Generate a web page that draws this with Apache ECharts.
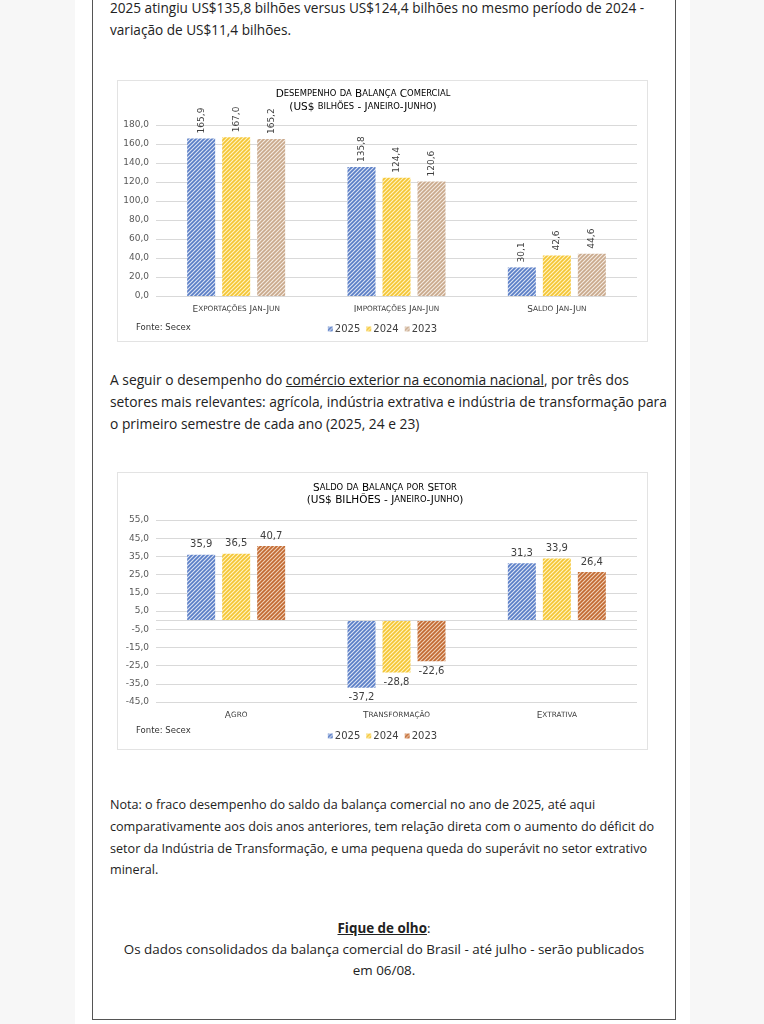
<!DOCTYPE html>
<html>
<head>
<meta charset="utf-8">
<script src="https://cdn.jsdelivr.net/npm/echarts@6/dist/echarts.min.js"></script>
<style>
  html, body { margin:0; padding:0; width:764px; height:1024px; overflow:hidden; background:#f7f7f7; }
  #page { position:absolute; left:75px; top:0; width:615px; height:1024px; background:#fff; }
  #box { position:absolute; left:92px; top:-10px; width:584px; height:1030px; border:1.5px solid #555; box-sizing:border-box; }
  .t { position:absolute; font-family:"Open Sans", sans-serif; font-size:13.6px; color:#222; white-space:nowrap; line-height:22px; }
  .p2 { font-size:13.8px; }
  .nota { font-size:12.6px; }
  .c { text-align:center; font-size:13.4px; }
  .u { text-decoration:underline; }
  .chart { position:absolute; left:117px; width:531px; border:1px solid #e3e3e3; box-sizing:border-box; background:#fff; }
</style>
</head>
<body>
<div id="page"></div>
<div id="box"></div>

<div class="t" style="left:110px; top:-3px;">2025 atingiu US$135,8 bilhões versus US$124,4 bilhões no mesmo período de 2024 -</div>
<div class="t" style="left:110px; top:19px;">variação de US$11,4 bilhões.</div>

<div id="c1" class="chart" style="top:80px; height:262px;"></div>

<div class="t p2" style="left:110px; top:369px;">A seguir o desempenho do <span class="u">comércio exterior na economia nacional</span>, por três dos</div>
<div class="t p2" style="left:110px; top:391px;">setores mais relevantes: agrícola, indústria extrativa e indústria de transformação para</div>
<div class="t p2" style="left:110px; top:413px;">o primeiro semestre de cada ano (2025, 24 e 23)</div>

<div id="c2" class="chart" style="top:472px; height:278px;"></div>

<div class="t nota" style="left:110px; top:794px;">Nota: o fraco desempenho do saldo da balança comercial no ano de 2025, até aqui</div>
<div class="t nota" style="left:110px; top:816px;">comparativamente aos dois anos anteriores, tem relação direta com o aumento do déficit do</div>
<div class="t nota" style="left:110px; top:838px;">setor da Indústria de Transformação, e uma pequena queda do superávit no setor extrativo</div>
<div class="t nota" style="left:110px; top:859px;">mineral.</div>

<div class="t c" style="left:92px; width:584px; top:917px;"><b class="u">Fique de olho</b>:</div>
<div class="t c" style="left:92px; width:584px; top:938px;">Os dados consolidados da balança comercial do Brasil - até julho - serão publicados</div>
<div class="t c" style="left:92px; width:584px; top:959px;">em 06/08.</div>

<script>
// ---------- data ----------
const years = ['2025', '2024', '2023'];

const c1Categories = ['Exportações Jan-Jun', 'Importações Jan-Jun', 'Saldo Jan-Jun'];
const c1Values2025 = [165.9, 135.8, 30.1];
const c1Values2024 = [167.0, 124.4, 42.6];
const c1Values2023 = [165.2, 120.6, 44.6];
const c1Ticks = { min: 0, max: 180, interval: 20 };

const c2Categories = ['Agro', 'Transformação', 'Extrativa'];
const c2Values2025 = [35.9, -37.2, 31.3];
const c2Values2024 = [36.5, -28.8, 33.9];
const c2Values2023 = [40.7, -22.6, 26.4];
const c2Ticks = { min: -45, max: 55, interval: 10 };

// ---------- helpers ----------
function hatch(line, bg) {
  const s = 4;
  const cv = document.createElement('canvas');
  cv.width = s; cv.height = s;
  const ctx = cv.getContext('2d');
  ctx.fillStyle = bg; ctx.fillRect(0, 0, s, s);
  ctx.strokeStyle = line; ctx.lineWidth = 1.7;
  ctx.beginPath();
  ctx.moveTo(-1, 1); ctx.lineTo(1, -1);
  ctx.moveTo(0, s); ctx.lineTo(s, 0);
  ctx.moveTo(s - 1, s + 1); ctx.lineTo(s + 1, s - 1);
  ctx.stroke();
  return { image: cv, repeat: 'repeat' };
}
function sc(str) {
  let out = '', cur = null, buf = '';
  for (const ch of str) {
    const low = ch !== ch.toUpperCase();
    const k = low ? 's' : 'b';
    if (k !== cur) { if (buf) out += '{' + cur + '|' + buf + '}'; buf = ''; cur = k; }
    buf += low ? ch.toUpperCase() : ch;
  }
  if (buf) out += '{' + cur + '|' + buf + '}';
  return out;
}
const fmt = v => v.toFixed(1).replace('.', ',');
const FONT = '"DejaVu Sans", Verdana, sans-serif';

function scRich(big, small, color) {
  return {
    b: { fontSize: big, fontFamily: FONT, color: color },
    s: { fontSize: small, fontFamily: FONT, color: color }
  };
}

const blue = hatch('#5a7ec6', '#dbe3f4');
const yellow = hatch('#f4c535', '#fff3c4');
const tan = hatch('#c9a98c', '#f4ebe2');
const brown = hatch('#c26a32', '#f0d0b8');

function baseOption(cats, ticks, top, bottom) {
  return {
    animation: false,
    grid: { left: 38, right: 10, top: top, bottom: bottom },
    xAxis: {
      type: 'category', data: cats,
      axisLine: { show: false, onZero: false }, axisTick: { show: false },
      axisLabel: { interval: 0, margin: 9, formatter: v => sc(v), rich: scRich(9, 7.3, '#404040') }
    },
    yAxis: {
      type: 'value', min: ticks.min, max: ticks.max, interval: ticks.interval,
      axisLine: { show: false }, axisTick: { show: false },
      axisLabel: { formatter: fmt, fontSize: 9, fontFamily: FONT, color: '#595959', margin: 7 },
      splitLine: { lineStyle: { color: '#d9d9d9', width: 1 } }
    },
    legend: {
      left: 'center', itemWidth: 5, itemHeight: 5, itemGap: 6,
      textStyle: { fontSize: 10, fontFamily: FONT, color: '#404040', padding: [0, 0, 0, -3] },
      icon: 'rect'
    }
  };
}

const titleRich = scRich(10.5, 8.4, '#262626');

// ---------- chart 1 ----------
const ch1 = echarts.init(document.getElementById('c1'));
const o1 = baseOption(c1Categories, c1Ticks, 44, 45);
o1.legend.top = 238;
o1.legend.data = years;
o1.graphic = [
  { type: 'text', x: 245, y: 13, style: { text: sc('Desempenho da Balança Comercial'), align: 'center', verticalAlign: 'middle', rich: titleRich } },
  { type: 'text', x: 245, y: 26, style: { text: sc('(US$ bilhões - Janeiro-Junho)'), align: 'center', verticalAlign: 'middle', rich: titleRich } },
  { type: 'text', x: 18, y: 247, style: { text: 'Fonte: Secex', fontSize: 8.5, fontFamily: FONT, fill: '#333', verticalAlign: 'middle' } }
];
const lab1 = { show: true, position: 'top', rotate: 90, align: 'left', verticalAlign: 'middle', distance: 5, formatter: p => fmt(p.value), fontSize: 9, fontFamily: FONT, color: '#404040' };
o1.series = [
  { name: '2025', type: 'bar', data: c1Values2025, barWidth: 28, barGap: '25%', itemStyle: { color: blue }, label: lab1 },
  { name: '2024', type: 'bar', data: c1Values2024, barWidth: 28, barGap: '25%', itemStyle: { color: yellow }, label: lab1 },
  { name: '2023', type: 'bar', data: c1Values2023, barWidth: 28, barGap: '25%', itemStyle: { color: tan }, label: lab1 }
];
ch1.setOption(o1);

// ---------- chart 2 ----------
const ch2 = echarts.init(document.getElementById('c2'));
const o2 = baseOption(c2Categories, c2Ticks, 47, 47);
o2.legend.top = 253;
o2.legend.data = years;
o2.graphic = [
  { type: 'text', x: 267, y: 15, style: { text: sc('Saldo da Balança por Setor'), align: 'center', verticalAlign: 'middle', rich: titleRich } },
  { type: 'text', x: 267, y: 27, style: { text: sc('(US$ BILHÕES - Janeiro-Junho)'), align: 'center', verticalAlign: 'middle', rich: titleRich } },
  { type: 'text', x: 18, y: 258, style: { text: 'Fonte: Secex', fontSize: 8.5, fontFamily: FONT, fill: '#333', verticalAlign: 'middle' } }
];
const lab2 = { show: true, fontSize: 10, fontFamily: FONT, color: '#404040', distance: 5, formatter: p => fmt(p.value) };
const mk = vals => vals.map(v => ({ value: v, label: { position: v < 0 ? 'bottom' : 'top' } }));
o2.series = [
  { name: '2025', type: 'bar', data: mk(c2Values2025), barWidth: 28, barGap: '25%', itemStyle: { color: blue }, label: lab2,
    markLine: { silent: true, symbol: 'none', label: { show: false }, lineStyle: { color: '#d9d9d9', type: 'solid', width: 1 }, data: [{ yAxis: 0 }] } },
  { name: '2024', type: 'bar', data: mk(c2Values2024), barWidth: 28, barGap: '25%', itemStyle: { color: yellow }, label: lab2 },
  { name: '2023', type: 'bar', data: mk(c2Values2023), barWidth: 28, barGap: '25%', itemStyle: { color: brown }, label: lab2 }
];
ch2.setOption(o2);
</script>
</body>
</html>
